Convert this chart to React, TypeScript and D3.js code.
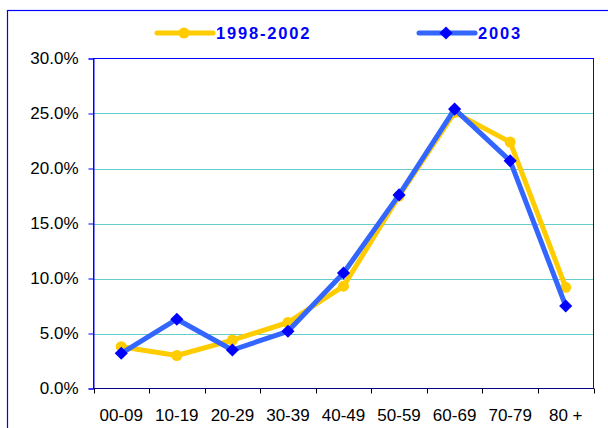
import { useRef, useEffect } from "react";
import * as d3 from "d3";

const categories = ["00-09", "10-19", "20-29", "30-39", "40-49", "50-59", "60-69", "70-79", "80 +"];
const series9802 = [3.8, 3.0, 4.4, 6.0, 9.3, 17.5, 25.1, 22.4, 9.2];
const series2003 = [3.2, 6.3, 3.5, 5.2, 10.5, 17.6, 25.4, 20.7, 7.5];
const yTicks = [0, 5, 10, 15, 20, 25, 30];
const seriesNames = ["1998-2002", "2003"];

const W = 608;
const H = 428;
const margin = { top: 58.5, right: 14.5, bottom: 39.5, left: 93.5 };

export default function App() {
  const svgRef = useRef<SVGSVGElement | null>(null);

  useEffect(() => {
    const svg = d3.select(svgRef.current);
    svg.selectAll("*").remove();

    const x = d3
      .scaleBand()
      .domain(categories)
      .range([margin.left, W - margin.right]);
    const y = d3
      .scaleLinear()
      .domain([0, 30])
      .range([H - margin.bottom, margin.top]);

    // outer frame (runs off the right/bottom edge)
    svg
      .append("rect")
      .attr("x", 7.5)
      .attr("y", 10.5)
      .attr("width", 620)
      .attr("height", 440)
      .attr("fill", "none")
      .attr("stroke", "#0000FF")
      .attr("stroke-width", 1.2);

    // gridlines
    svg
      .append("g")
      .selectAll("line")
      .data(yTicks.filter((t) => t > 0 && t < 30))
      .join("line")
      .attr("x1", margin.left)
      .attr("x2", W - margin.right)
      .attr("y1", (d) => Math.round(y(d)) + 0.5)
      .attr("y2", (d) => Math.round(y(d)) + 0.5)
      .attr("stroke", "#66CCCC")
      .attr("stroke-width", 1);

    // plot border
    svg
      .append("rect")
      .attr("x", margin.left)
      .attr("y", margin.top)
      .attr("width", W - margin.left - margin.right)
      .attr("height", H - margin.top - margin.bottom)
      .attr("fill", "none")
      .attr("stroke", "#0000FF")
      .attr("stroke-width", 1);

    // y axis
    const yAxis = svg
      .append("g")
      .attr("transform", `translate(${margin.left},0)`)
      .call(
        d3
          .axisLeft(y)
          .tickValues(yTicks)
          .tickSize(5)
          .tickPadding(10)
          .tickFormat((d) => `${(+d).toFixed(1)}%`)
      );
    yAxis.select(".domain").attr("stroke", "#0000FF");
    yAxis.selectAll(".tick line").attr("stroke", "#0000FF");
    yAxis
      .selectAll(".tick text")
      .attr("fill", "#000")
      .attr("font-family", "Arial, 'Liberation Sans', sans-serif")
      .attr("font-size", 17);

    // x axis: ticks at category boundaries
    const xAxis = svg.append("g").attr("transform", `translate(0,${H - margin.bottom})`);
    xAxis
      .append("line")
      .attr("x1", margin.left)
      .attr("x2", W - margin.right)
      .attr("stroke", "#000080")
      .attr("stroke-width", 1.2);
    const bounds = categories.map((c) => x(c) as number).concat([W - margin.right]);
    xAxis
      .selectAll("line.tk")
      .data(bounds)
      .join("line")
      .attr("class", "tk")
      .attr("x1", (d) => Math.round(d) + 0.5)
      .attr("x2", (d) => Math.round(d) + 0.5)
      .attr("y1", 0)
      .attr("y2", 5)
      .attr("stroke", "#000");
    xAxis
      .selectAll("text")
      .data(categories)
      .join("text")
      .attr("x", (d) => (x(d) as number) + x.bandwidth() / 2)
      .attr("y", 32.5)
      .attr("text-anchor", "middle")
      .attr("font-family", "Arial, 'Liberation Sans', sans-serif")
      .attr("font-size", 17)
      .attr("fill", "#000")
      .text((d) => d);

    const cx = (i: number) => (x(categories[i]) as number) + x.bandwidth() / 2;
    const line = d3
      .line<number>()
      .x((_, i) => cx(i))
      .y((d) => y(d));

    // 1998-2002 series
    svg
      .append("path")
      .datum(series9802)
      .attr("d", line)
      .attr("fill", "none")
      .attr("stroke", "#FFCC00")
      .attr("stroke-width", 5)
      .attr("stroke-linejoin", "round");
    svg
      .append("g")
      .selectAll("circle")
      .data(series9802)
      .join("circle")
      .attr("cx", (_, i) => cx(i))
      .attr("cy", (d) => y(d))
      .attr("r", 5.5)
      .attr("fill", "#FFCC00");

    // 2003 series
    const diamond = d3.symbol().type(d3.symbolDiamond2).size(110);
    svg
      .append("path")
      .datum(series2003)
      .attr("d", line)
      .attr("fill", "none")
      .attr("stroke", "#3366FF")
      .attr("stroke-width", 5)
      .attr("stroke-linejoin", "round");
    svg
      .append("g")
      .selectAll("path")
      .data(series2003)
      .join("path")
      .attr("d", diamond)
      .attr("transform", (d, i) => `translate(${cx(i)},${y(d)})`)
      .attr("fill", "#0000FF");

    // legend
    const legend = [
      { name: seriesNames[0], x0: 157, color: "#FFCC00", marker: "circle" },
      { name: seriesNames[1], x0: 419, color: "#3366FF", marker: "diamond" },
    ];
    const ly = 33;
    legend.forEach((l) => {
      svg
        .append("line")
        .attr("x1", l.x0)
        .attr("x2", l.x0 + 56)
        .attr("y1", ly)
        .attr("y2", ly)
        .attr("stroke", l.color)
        .attr("stroke-width", 5)
        .attr("stroke-linecap", "round");
      if (l.marker === "circle") {
        svg
          .append("circle")
          .attr("cx", l.x0 + 27)
          .attr("cy", ly)
          .attr("r", 5.5)
          .attr("fill", "#FFCC00");
      } else {
        svg
          .append("path")
          .attr("d", diamond)
          .attr("transform", `translate(${l.x0 + 27},${ly})`)
          .attr("fill", "#0000FF");
      }
      svg
        .append("text")
        .attr("x", l.x0 + 59)
        .attr("y", ly + 6)
        .attr("font-family", "Arial, 'Liberation Sans', sans-serif")
        .attr("font-size", 16.5)
        .attr("font-weight", "bold")
        .attr("letter-spacing", 1.8)
        .attr("fill", "#0000FF")
        .text(l.name);
    });
  }, []);

  return (
    <svg
      ref={svgRef}
      width={W}
      height={H}
      style={{ position: "absolute", left: 0, top: 0, background: "#fff" }}
    />
  );
}
